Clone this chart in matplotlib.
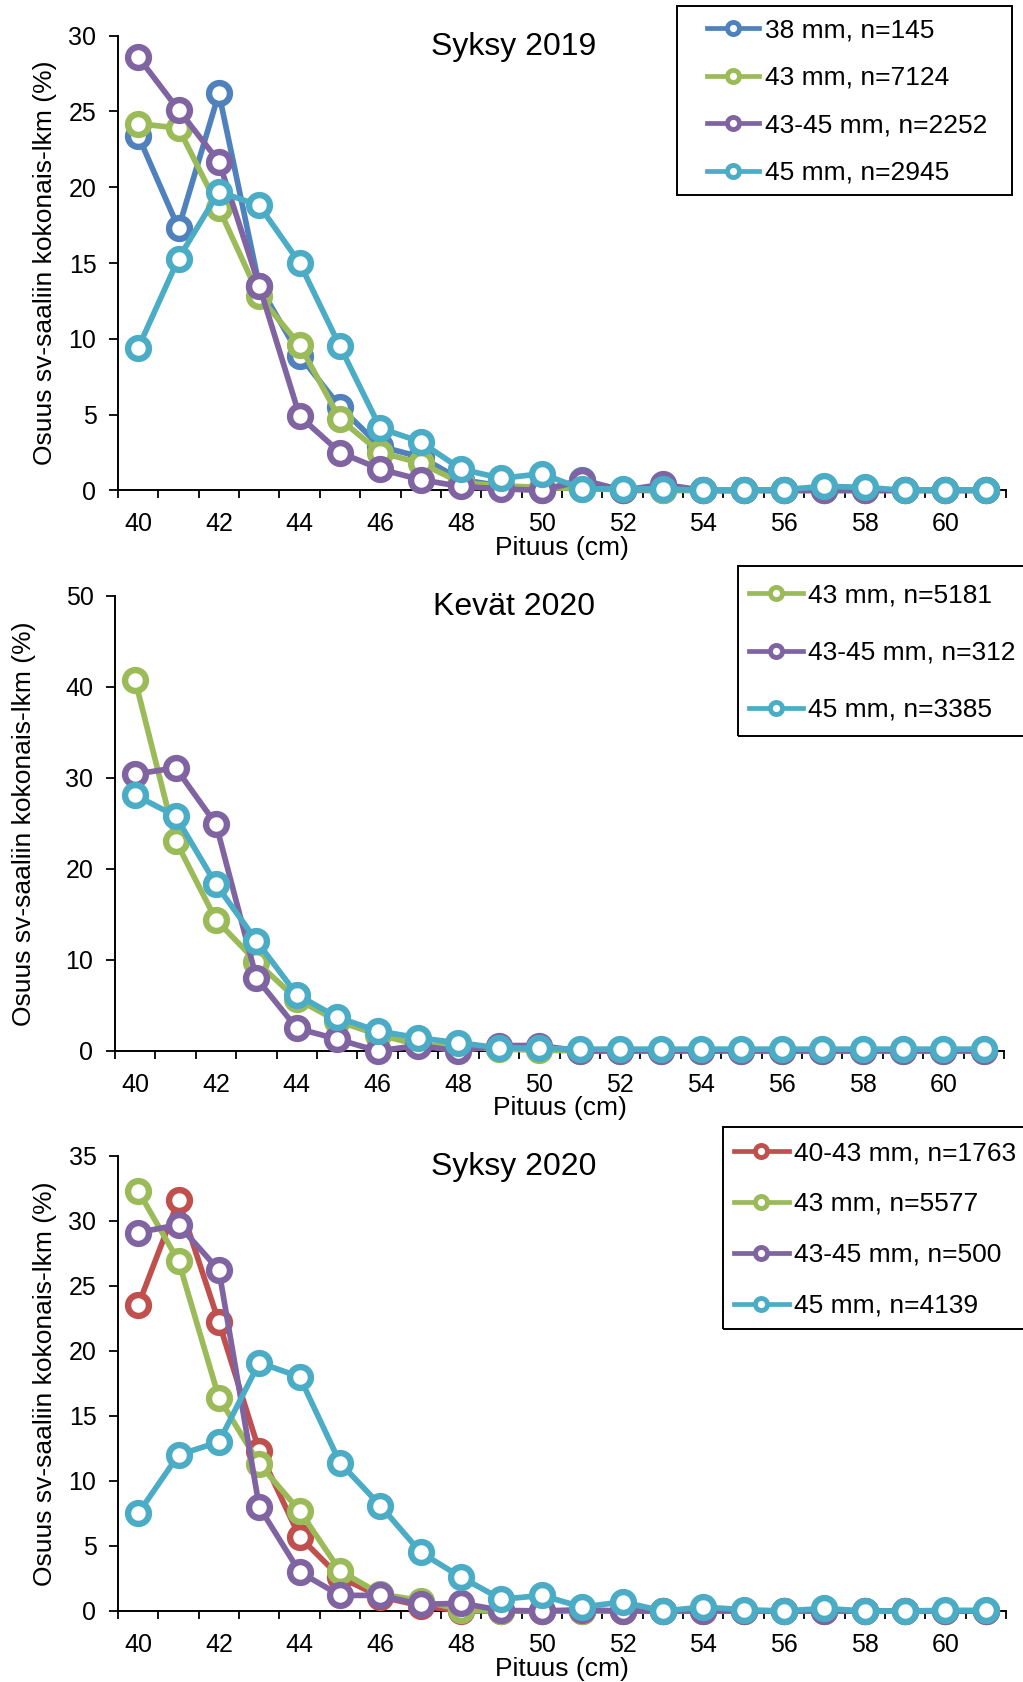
import matplotlib
matplotlib.use('Agg')
import matplotlib.pyplot as plt
from matplotlib.lines import Line2D
from matplotlib.patches import Rectangle
from matplotlib.ticker import FixedLocator, MultipleLocator

plt.rcParams['font.family'] = ['Liberation Sans', 'DejaVu Sans']

# ---------------- data ----------------
lengths = list(range(40, 62))          # Pituus (cm), category axis
tick_labels = [str(v) if v % 2 == 0 else '' for v in lengths]

# Syksy 2019
s19_labels = ['38 mm, n=145', '43 mm, n=7124', '43-45 mm, n=2252', '45 mm, n=2945']
s19_38 = [23.4, 17.3, 26.2, 13.5, 8.9, 5.5, 2.9, 2.2, 0.7, 0.3, 0.0, 0.7, 0.0, 0.0,
          0.0, 0.0, 0.0, 0.0, 0.0, 0.0, 0.0, 0.0]
s19_43 = [24.2, 23.9, 18.6, 12.8, 9.6, 4.7, 2.5, 1.8, 0.5, 0.3, 0.2, 0.1, 0.05, 0.05,
          0.0, 0.0, 0.0, 0.0, 0.0, 0.0, 0.0, 0.0]
s19_4345 = [28.6, 25.1, 21.7, 13.5, 4.9, 2.5, 1.4, 0.7, 0.26, 0.1, 0.0, 0.65, 0.0, 0.4,
            0.0, 0.0, 0.0, 0.0, 0.0, 0.0, 0.0, 0.0]
s19_45 = [9.4, 15.3, 19.7, 18.8, 15.0, 9.5, 4.1, 3.2, 1.4, 0.8, 1.1, 0.1, 0.1, 0.1,
          0.0, 0.0, 0.05, 0.27, 0.2, 0.0, 0.05, 0.0]

# Kevät 2020
k20_labels = ['43 mm, n=5181', '43-45 mm, n=312', '45 mm, n=3385']
k20_43 = [40.7, 23.1, 14.4, 9.8, 5.7, 3.3, 1.8, 0.7, 0.5, 0.2, 0.1, 0.0, 0.0, 0.0,
          0.0, 0.0, 0.0, 0.0, 0.0, 0.0, 0.0, 0.0]
k20_4345 = [30.4, 31.1, 24.9, 8.0, 2.5, 1.3, 0.0, 0.6, 0.0, 0.6, 0.6, 0.0, 0.0, 0.0,
            0.0, 0.0, 0.0, 0.0, 0.0, 0.0, 0.0, 0.0]
k20_45 = [28.1, 25.8, 18.3, 12.1, 6.2, 3.7, 2.2, 1.45, 0.9, 0.35, 0.3, 0.2, 0.2, 0.2,
          0.2, 0.2, 0.2, 0.2, 0.2, 0.2, 0.2, 0.2]

# Syksy 2020
s20_labels = ['40-43 mm, n=1763', '43 mm, n=5577', '43-45 mm, n=500', '45 mm, n=4139']
s20_4043 = [23.5, 31.6, 22.2, 12.3, 5.7, 2.6, 1.1, 0.4, 0.0, 0.0, 0.0, 0.0, 0.0, 0.0,
            0.0, 0.0, 0.0, 0.0, 0.0, 0.0, 0.0, 0.0]
s20_43 = [32.3, 26.9, 16.4, 11.3, 7.7, 3.1, 1.3, 0.8, 0.1, 0.0, 0.0, 0.0, 0.0, 0.0,
          0.0, 0.0, 0.0, 0.0, 0.0, 0.0, 0.0, 0.0]
s20_4345 = [29.1, 29.7, 26.2, 8.0, 3.0, 1.2, 1.2, 0.5, 0.6, 0.05, 0.0, 0.1, 0.0, 0.0,
            0.0, 0.0, 0.0, 0.0, 0.0, 0.0, 0.0, 0.0]
s20_45 = [7.5, 12.0, 13.0, 19.1, 18.0, 11.4, 8.1, 4.5, 2.6, 0.9, 1.2, 0.3, 0.7, 0.0,
          0.3, 0.1, 0.0, 0.2, 0.0, 0.0, 0.05, 0.05]

BLUE, GREEN, PURPLE, CYAN, RED = '#4F81BD', '#9BBB59', '#8064A2', '#4BACC6', '#C0504D'

# ---------------- layout ----------------
W, H = 1023, 1682
fig = plt.figure(figsize=(W / 100, H / 100), dpi=100)

YLABEL = 'Osuus sv-saaliin kokonais-lkm (%)'
XLABEL = 'Pituus (cm)'


def fx(x):
    return x / W


def fy(y):
    return 1 - y / H


def panel(box, ymax, ystep, series, labels, colors, title, title_y, xlab_y, ylab_x,
          leg_box, leg_x, leg_row1, spacing, hlen):
    left, top, right, bottom = box
    ax = fig.add_axes([fx(left), fy(bottom), (right - left) / W, (bottom - top) / H])
    x = list(range(len(lengths)))
    for vals, c in zip(series, colors):
        ax.plot(x, vals, color=c, lw=4.1, marker='o', ms=15, mfc='white', mec=c,
                mew=4.6, clip_on=False, zorder=3)
    ax.set_xlim(-0.5, len(lengths) - 0.5)
    ax.set_ylim(0, ymax)
    ax.yaxis.set_major_locator(MultipleLocator(ystep))
    ax.xaxis.set_major_locator(FixedLocator(x))
    ax.set_xticklabels(tick_labels)
    ax.xaxis.set_minor_locator(FixedLocator([i - 0.5 for i in range(len(lengths) + 1)]))
    ax.tick_params(axis='x', which='major', length=0, pad=15.5, labelsize=18)
    ax.tick_params(axis='x', which='minor', length=5.8, width=1.3, direction='out')
    ax.tick_params(axis='y', which='major', length=6.5, width=1.3, pad=9, labelsize=18,
                   direction='out')
    for s in ['top', 'right']:
        ax.spines[s].set_visible(False)
    for s in ['left', 'bottom']:
        ax.spines[s].set_linewidth(1.4)
        ax.spines[s].set_color('black')
    ax.patch.set_alpha(0)
    cx = (left + right) / 2
    fig.text(fx(514), fy(title_y), title, ha='center', va='center', fontsize=23)
    fig.text(fx(cx), fy(xlab_y), XLABEL, ha='center', va='center', fontsize=19)
    fig.text(fx(ylab_x), fy((top + bottom) / 2), YLABEL, ha='center', va='center',
             rotation=90, fontsize=19)
    # legend
    handles = [Line2D([0], [0], color=c, lw=3.4, marker='o', ms=8.7, mfc='white',
                      mec=c, mew=3.5) for c in colors]
    ax.legend(handles, labels, loc='upper left',
              bbox_to_anchor=(fx(leg_x), fy(leg_row1 - 15)),
              bbox_transform=fig.transFigure, frameon=False, borderpad=0,
              borderaxespad=0, handlelength=hlen, handletextpad=0.2,
              labelspacing=spacing, fontsize=19, numpoints=1)
    x0, y0, x1, y1 = leg_box
    fig.add_artist(Rectangle((fx(x0), fy(y1)), (x1 - x0) / W, (y1 - y0) / H,
                             transform=fig.transFigure, fill=False, ec='black', lw=1.4))
    return ax


panel((118, 35.7, 1006, 490.4), 30, 5,
      [s19_38, s19_43, s19_4345, s19_45], s19_labels, [BLUE, GREEN, PURPLE, CYAN],
      'Syksy 2019', 46.8, 548, 45,
      (676.7, 6, 1011.7, 195), 706.7, 33.5, 0.89, 2.0)

panel((115, 595.7, 1004, 1051), 50, 10,
      [k20_43, k20_4345, k20_45], k20_labels, [GREEN, PURPLE, CYAN],
      'Kevät 2020', 606.8, 1108, 24,
      (737.7, 566, 1030, 736), 749, 598.5, 1.26, 2.05)

panel((118, 1155.8, 1006, 1611), 35, 5,
      [s20_4043, s20_43, s20_4345, s20_45], s20_labels, [RED, GREEN, PURPLE, CYAN],
      'Syksy 2020', 1167, 1668.6, 45,
      (723, 1126.7, 1030, 1329), 734, 1156, 1.02, 2.08)

fig.savefig('out.png', dpi=100, facecolor='white')
